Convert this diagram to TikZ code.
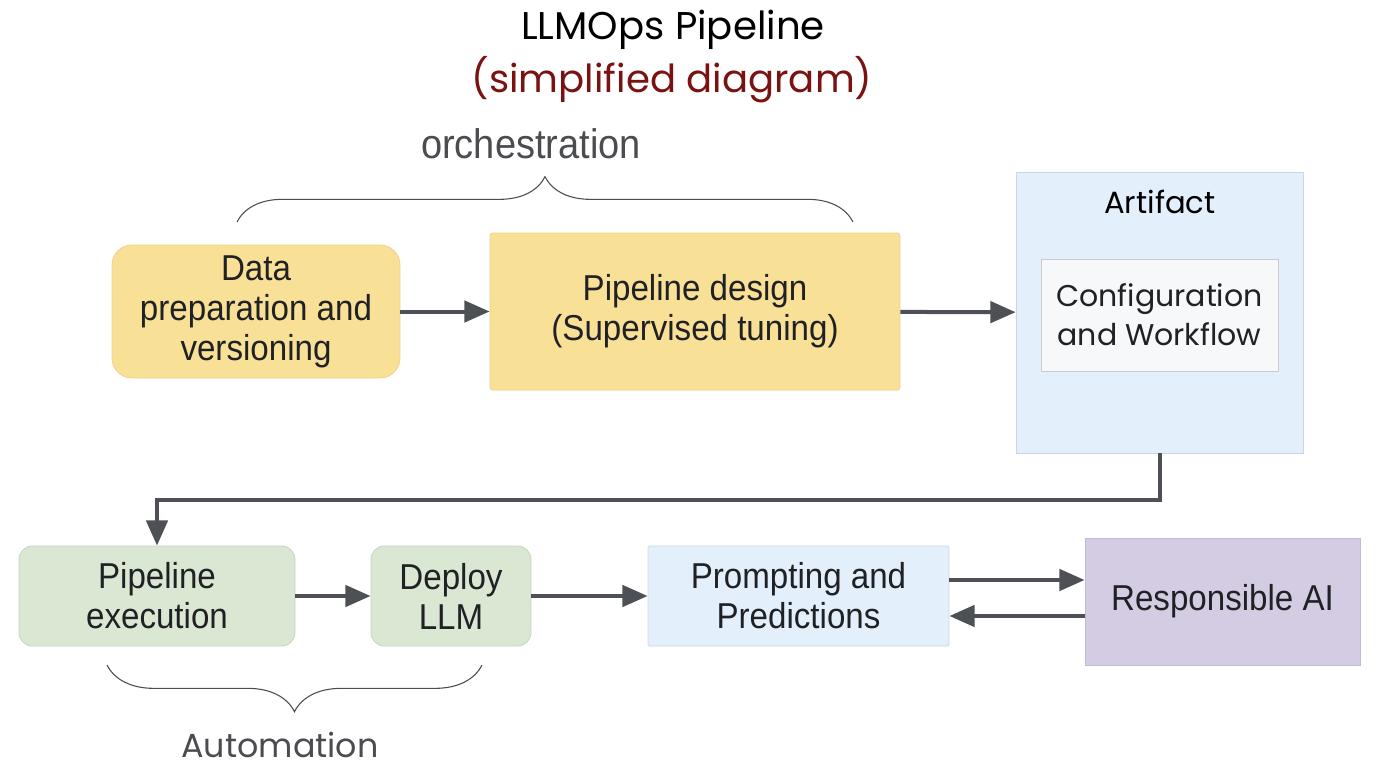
\documentclass[tikz,border=0pt]{standalone}
\usepackage{fontspec}
\setmainfont{Liberation Sans}[FakeStretch=0.92]
\newfontfamily\popfont{Poppins}
\usetikzlibrary{arrows.meta,decorations.pathreplacing}
\definecolor{inkblack}{HTML}{202124}
\definecolor{inkgray}{HTML}{4A4C50}
\definecolor{arrowgray}{HTML}{4D5156}
\definecolor{titlered}{HTML}{7A1212}
\definecolor{yellowfill}{HTML}{F9E097}
\definecolor{yellowline}{HTML}{EED38A}
\definecolor{greenfill}{HTML}{D9E7D3}
\definecolor{greenline}{HTML}{C6D5BF}
\definecolor{bluefill}{HTML}{E3F0FC}
\definecolor{blueline}{HTML}{C9D7E5}
\definecolor{purplefill}{HTML}{D4CCE3}
\definecolor{purpleline}{HTML}{C2B9D6}
\definecolor{cardfill}{HTML}{F7F8FA}
\definecolor{cardline}{HTML}{C8CCD1}
\begin{document}
\begin{tikzpicture}[x=0.75pt,y=-0.75pt,
  box/.style={inner sep=0pt, align=center, text=inkblack, line width=0.6pt,
    font=\fontsize{27}{30}\selectfont},
  yellowbox/.style={box, fill=yellowfill, draw=yellowline},
  greenbox/.style={box, fill=greenfill, draw=greenline, rounded corners=10pt},
  bluebox/.style={box, fill=bluefill, draw=blueline, rounded corners=1pt},
  flow/.style={draw=arrowgray, line width=3pt,
    -{Triangle[length=19pt,width=16pt]}},
  brace/.style={draw=inkgray, line width=0.8pt,
    decorate, decoration={brace, amplitude=#1}},
  bracelabel/.style={text=inkgray}]
\useasboundingbox (0,0) rectangle (1394,770);

% title
\node (title) at (673,30) {\popfont\fontsize{29}{32}\selectfont LLMOps Pipeline};
\node (subtitle) at (672,80) {\popfont\fontsize{29}{32}\selectfont\color{titlered}(simplified diagram)};

% top row
\node [yellowbox, rounded corners=15pt, minimum width=216pt, minimum height=99.75pt]
  (data) at (256,311.5) {Data\\preparation and\\versioning};
\node [yellowbox, rounded corners=2pt, minimum width=307.5pt, minimum height=117.75pt]
  (design) at (695,311.5) {Pipeline design\\(Supervised tuning)};
\node [bluebox, rounded corners=0pt, minimum width=215.25pt, minimum height=210.75pt]
  (art) at (1159.5,312.5) {};
\node (artlabel) at (1160,202) {\popfont\fontsize{23}{29}\selectfont Artifact};
\node [box, fill=cardfill, draw=cardline, minimum width=177.75pt, minimum height=84pt,
  font=\popfont\fontsize{22.5}{29.5}\selectfont]
  (config) at (1159.5,315) {Configuration\\and Workflow};

% orchestration brace
\coordinate (orchL) at (237,222);
\coordinate (orchR) at (853,222);
\draw [brace=34pt] (orchL) -- (orchR);
\node [bracelabel, font=\fontsize{31}{34}\selectfont] (orch) at (531,144) {orchestration};

% bottom row
\node [greenbox, minimum width=207pt, minimum height=75pt]
  (exec) at (157,596) {Pipeline\\execution};
\node [greenbox, minimum width=120pt, minimum height=75pt]
  (deploy) at (451,596) {Deploy\\LLM};
\node [bluebox, minimum width=225.75pt, minimum height=75pt]
  (prompt) at (798.5,596) {Prompting and\\Predictions};
\node [box, fill=purplefill, draw=purpleline, minimum width=206.25pt, minimum height=95.25pt]
  (rai) at (1222.5,601.5) {Responsible AI};

% automation brace
\coordinate (autoR) at (482,665);
\coordinate (autoL) at (107,665);
\draw [brace=35pt] (autoR) -- (autoL);
\node [bracelabel, font=\popfont\fontsize{25}{28}\selectfont] (auto) at (280,745) {Automation};

% connectors
\draw [flow] (data) -- (design);
\draw [flow] (design) -- (art);
\draw [flow] (art.south) -- ++(0,47) -| (exec.north);
\draw [flow] (exec) -- (deploy);
\draw [flow] (deploy) -- (prompt);
\coordinate (upper) at (0,580);
\coordinate (lower) at (0,616);
\draw [flow] (prompt.east |- upper) -- (rai.west |- upper);
\draw [flow] (rai.west |- lower) -- (prompt.east |- lower);
\end{tikzpicture}
\end{document}
